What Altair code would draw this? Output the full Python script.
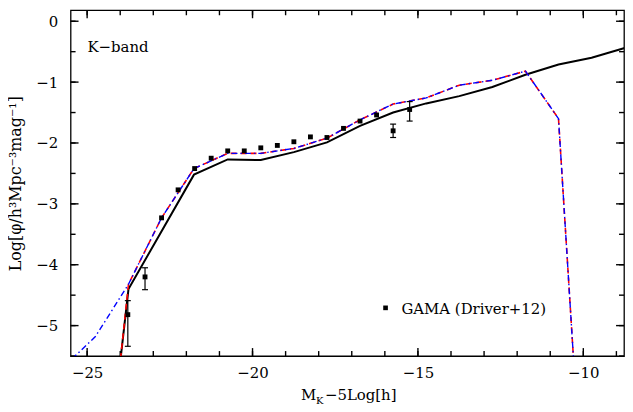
import altair as alt
import pandas as pd

FONT = "DejaVu Serif"
W, H = 557, 348
XDOM = [-25.5, -8.77]
YDOM = [-5.5, 0.18]

# ---- data ----
gama_x = [-23.77, -23.25, -22.75, -22.25, -21.75, -21.25, -20.75, -20.25, -19.75,
          -19.25, -18.75, -18.25, -17.75, -17.25, -16.75, -16.25, -15.75, -15.25]
gama_y = [-4.82, -4.20, -3.23, -2.77, -2.42, -2.25, -2.13, -2.13, -2.08,
          -2.04, -1.98, -1.90, -1.91, -1.76, -1.64, -1.54, -1.80, -1.45]

err_x = [-23.77, -23.25, -15.75, -15.25]
err_lo = [-5.34, -4.41, -1.91, -1.64]
err_hi = [-4.59, -4.05, -1.69, -1.32]

black_x = [-23.99, -23.75, -21.77, -20.75, -19.75, -18.75, -17.75, -16.75, -15.75,
           -14.75, -13.75, -12.75, -11.75, -10.75, -9.75, -8.75]
black_y = [-5.55, -4.40, -2.52, -2.27, -2.28, -2.15, -1.99, -1.72, -1.50,
           -1.35, -1.23, -1.08, -0.88, -0.71, -0.60, -0.44]

red_x = [-23.99, -23.75, -22.75, -21.77, -20.75, -19.75, -18.75, -17.75, -16.75,
         -15.75, -14.75, -13.75, -12.75, -11.75, -10.75, -9.75]
red_y = [-5.55, -4.32, -3.23, -2.42, -2.17, -2.17, -2.09, -1.92, -1.62,
         -1.36, -1.26, -1.05, -0.97, -0.82, -1.60, -10.3]

blue_x = [-25.75, -24.75, -23.75, -22.75, -21.77, -20.75, -19.75, -18.75, -17.75, -16.75,
          -15.75, -14.75, -13.75, -12.75, -11.75, -10.75, -9.75]
blue_y = [-5.70, -5.18, -4.32, -3.23, -2.42, -2.17, -2.17, -2.09, -1.92, -1.62,
          -1.36, -1.26, -1.05, -0.97, -0.82, -1.60, -10.3]

x_major = [-25, -20, -15, -10]
x_minor = list(range(-25, -8))
y_major = [-5, -4, -3, -2, -1, 0]
y_minor = [-5.5, -5, -4.5, -4, -3.5, -3, -2.5, -2, -1.5, -1, -0.5, 0]

Y_TITLE = "Log[φ/h³Mpc⁻³mag⁻¹]"
LEGEND_LABEL = "GAMA (Driver+12)"
BAND_LABEL = "K−band"
X_TITLE_PARTS = ["M", "K", "−5Log[h]"]

XSCALE = alt.Scale(domain=XDOM, nice=False, zero=False)
YSCALE = alt.Scale(domain=YDOM, nice=False, zero=False)
XAXIS = alt.Axis(values=x_major, ticks=False, domain=False, grid=False,
                 labelPadding=10, labelFont=FONT, labelFontSize=15, labelColor="black")
YAXIS = alt.Axis(values=y_major, ticks=False, domain=False, grid=False,
                 labelPadding=13, labelFont=FONT, labelFontSize=15, labelColor="black",
                 titleFont=FONT, titleFontSize=16, titleFontWeight="normal",
                 titleColor="black", titleX=-55, titleY=H / 2,
                 titleAngle=270, titleAlign="center", titleBaseline="middle")


def X(field):
    return alt.X(f"{field}:Q", scale=XSCALE, axis=XAXIS, title=None)


def Y(field):
    return alt.Y(f"{field}:Q", scale=YSCALE, axis=YAXIS, title=Y_TITLE)


layers = []

# inward ticks on all four sides
TICK = dict(color="black", strokeWidth=1.4, opacity=1)
for vals, f, ln in ((x_major, "xmaj", 8), (x_minor, "xmin", 5)):
    layers.append(alt.Chart(pd.DataFrame({f: vals})).mark_rule(**TICK).encode(
        x=X(f), y=alt.value(H), y2=alt.value(H - ln)))
    layers.append(alt.Chart(pd.DataFrame({f: vals})).mark_rule(**TICK).encode(
        x=X(f), y=alt.value(0), y2=alt.value(ln)))
for vals, f, ln in ((y_major, "ymaj", 8), (y_minor, "ymin", 5)):
    layers.append(alt.Chart(pd.DataFrame({f: vals})).mark_rule(**TICK).encode(
        y=Y(f), x=alt.value(0), x2=alt.value(ln)))
    layers.append(alt.Chart(pd.DataFrame({f: vals})).mark_rule(**TICK).encode(
        y=Y(f), x=alt.value(W), x2=alt.value(W - ln)))

black = pd.DataFrame({"x": black_x, "y": black_y})
red = pd.DataFrame({"x": red_x, "y": red_y})
blue = pd.DataFrame({"x": blue_x, "y": blue_y})

layers.append(alt.Chart(black).mark_line(color="black", strokeWidth=2, clip=True).encode(
    x=X("x"), y=Y("y"), order="x:Q"))
layers.append(alt.Chart(red).mark_line(color="#ff0000", strokeWidth=1.6, strokeDash=[6, 4],
                                       clip=True).encode(x=X("x"), y=Y("y"), order="x:Q"))
layers.append(alt.Chart(blue).mark_line(color="#0000ff", strokeWidth=1.4,
                                        strokeDash=[6, 3, 1.5, 3], clip=True).encode(
    x=X("x"), y=Y("y"), order="x:Q"))

err = pd.DataFrame({"x": err_x, "lo": err_lo, "hi": err_hi})
layers.append(alt.Chart(err).mark_rule(color="black", strokeWidth=1.2).encode(
    x=X("x"), y=Y("lo"), y2="hi:Q"))
layers.append(alt.Chart(err).mark_tick(color="black", orient="horizontal", size=6,
                                       thickness=1.2, opacity=1).encode(x=X("x"), y=Y("lo")))
layers.append(alt.Chart(err).mark_tick(color="black", orient="horizontal", size=6,
                                       thickness=1.2, opacity=1).encode(x=X("x"), y=Y("hi")))

gama = pd.DataFrame({"x": gama_x, "y": gama_y})
layers.append(alt.Chart(gama).mark_square(color="black", size=24, opacity=1).encode(
    x=X("x"), y=Y("y")))

# annotations
layers.append(alt.Chart(pd.DataFrame({"t": [BAND_LABEL]})).mark_text(
    font=FONT, fontSize=15, align="left", baseline="middle", color="black").encode(
    x=alt.value(17), y=alt.value(37), text="t:N"))
layers.append(alt.Chart(pd.DataFrame({"lg": [LEGEND_LABEL]})).mark_square(
    color="black", size=22, opacity=1).encode(x=alt.value(317), y=alt.value(299.5)))
layers.append(alt.Chart(pd.DataFrame({"lt": [LEGEND_LABEL]})).mark_text(
    font=FONT, fontSize=15, align="left", baseline="middle", color="black").encode(
    x=alt.value(333), y=alt.value(301), text="lt:N"))

# x-axis title  M_K - 5Log[h]
layers.append(alt.Chart(pd.DataFrame({"m": [X_TITLE_PARTS[0]]})).mark_text(
    font=FONT, fontSize=15, align="left", baseline="alphabetic", color="black").encode(
    x=alt.value(232), y=alt.value(392), text="m:N"))
layers.append(alt.Chart(pd.DataFrame({"k": [X_TITLE_PARTS[1]]})).mark_text(
    font=FONT, fontSize=10, align="left", baseline="alphabetic", color="black").encode(
    x=alt.value(247), y=alt.value(396), text="k:N"))
layers.append(alt.Chart(pd.DataFrame({"r": [X_TITLE_PARTS[2]]})).mark_text(
    font=FONT, fontSize=15, align="left", baseline="alphabetic", color="black").encode(
    x=alt.value(256), y=alt.value(392), text="r:N"))

chart = alt.layer(*layers).properties(
    width=W, height=H, autosize="pad",
    padding={"left": 0, "top": 0, "right": 0, "bottom": 0},
).configure_view(stroke="black", strokeWidth=1.3)

chart.save("out.html", embed_options={"renderer": "svg", "actions": False})
